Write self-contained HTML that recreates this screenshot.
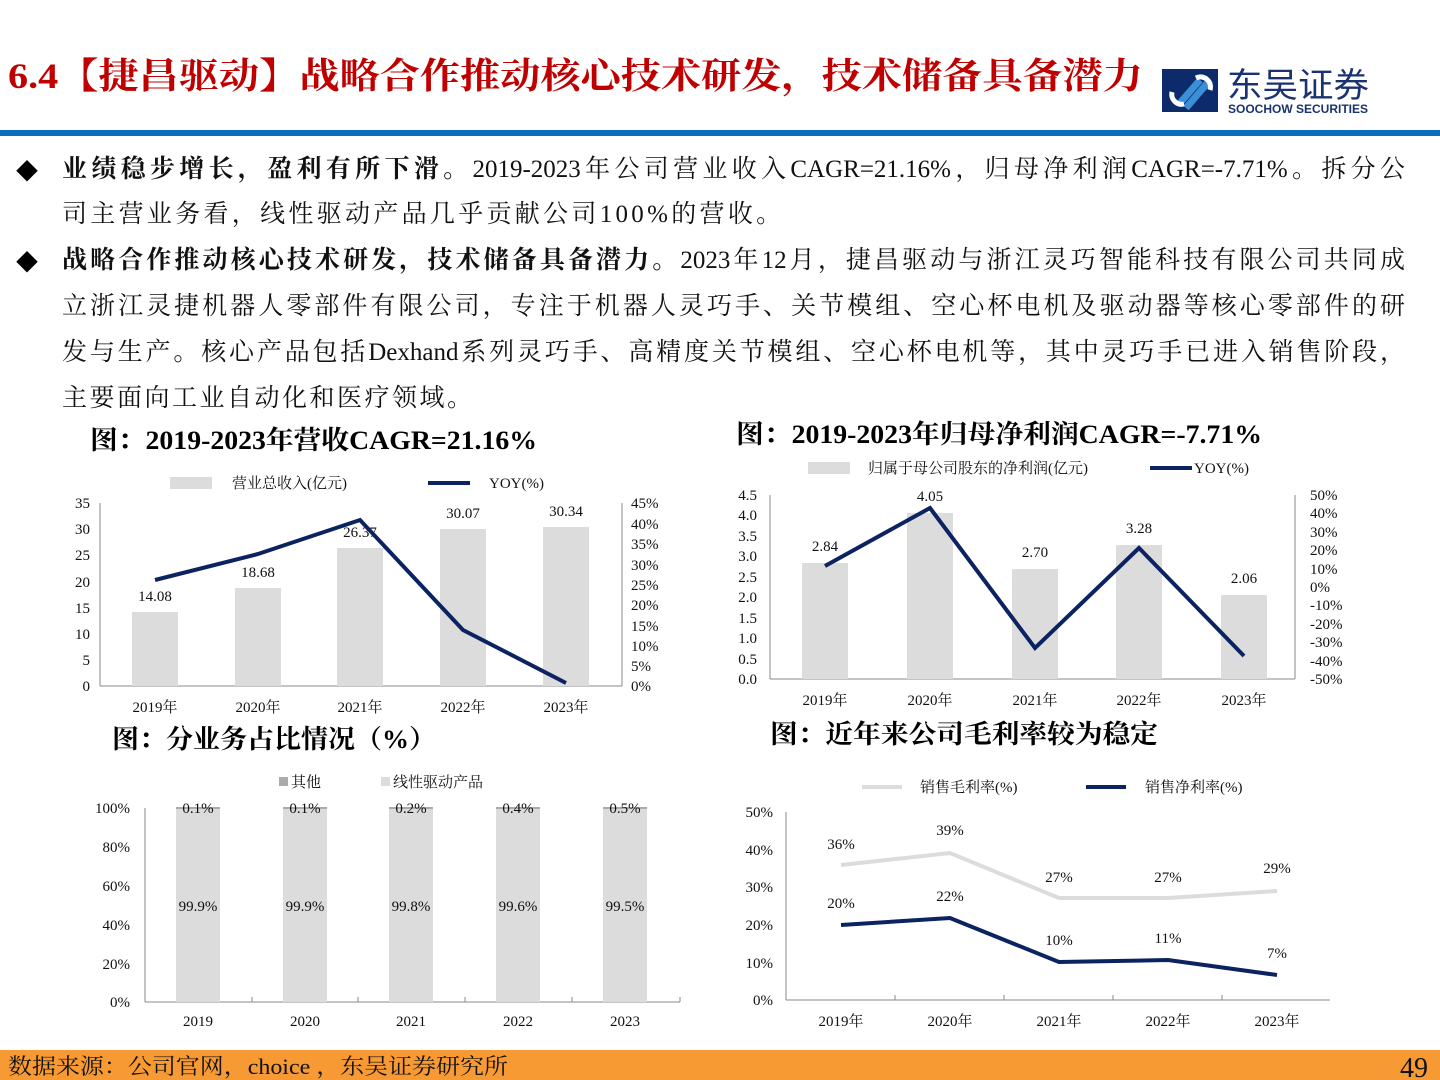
<!DOCTYPE html>
<html><head><meta charset="utf-8">
<style>
html,body{margin:0;padding:0;background:#fff;}
body{width:1440px;height:1080px;position:relative;overflow:hidden;font-family:"Liberation Serif","Noto Serif CJK SC",serif;}
.l{position:absolute;left:62px;width:1343px;font-size:25px;line-height:30px;color:#111;white-space:nowrap;}
.j{text-align:justify;text-align-last:justify;}
b{font-weight:bold;}
</style></head><body>
<svg width="1440" height="1080" style="position:absolute;left:0;top:0" font-family="Liberation Serif, Noto Serif CJK SC, serif">
<!-- header -->
<text x="8" y="88" font-size="36" font-weight="bold" fill="#c00000" textLength="1135" lengthAdjust="spacingAndGlyphs">6.4【捷昌驱动】战略合作推动核心技术研发，技术储备具备潜力</text>
<rect x="1162" y="69" width="56" height="43" fill="#0d2a6b"/>
<path d="M1180 103 L1200 80 M1186 108 L1210 80" stroke="#3a8fd6" stroke-width="7" fill="none"/>
<path d="M1196 78 a10 10 0 0 1 14 12 M1184 104 a10 10 0 0 1 -12 -12" stroke="#fff" stroke-width="5" fill="none"/>
<text x="1227" y="97" font-size="34" fill="#1a3370" font-family="Noto Sans CJK SC, sans-serif" textLength="142" lengthAdjust="spacingAndGlyphs">东吴证券</text>
<text x="1228" y="113" font-size="12" font-weight="bold" fill="#1a3370" font-family="Liberation Sans, sans-serif" textLength="140" lengthAdjust="spacingAndGlyphs">SOOCHOW SECURITIES</text>
<rect x="0" y="130" width="1440" height="6" fill="#0b6bbf"/>
<!-- bullets -->
<text x="16" y="179" font-size="22">◆</text>
<text x="16" y="270" font-size="22">◆</text>

<!-- chart titles -->
<text x="90" y="449" font-size="26" font-weight="bold" textLength="447" lengthAdjust="spacingAndGlyphs">图：2019-2023年营收CAGR=21.16%</text>
<text x="736" y="443" font-size="26" font-weight="bold" textLength="526" lengthAdjust="spacingAndGlyphs">图：2019-2023年归母净利润CAGR=-7.71%</text>
<text x="112" y="748" font-size="26" font-weight="bold" textLength="324" lengthAdjust="spacingAndGlyphs">图：分业务占比情况（%）</text>
<text x="770" y="743" font-size="26" font-weight="bold" textLength="388" lengthAdjust="spacingAndGlyphs">图：近年来公司毛利率较为稳定</text>

<!-- chart1 -->
<g font-size="15" fill="#111">
<rect x="170" y="477" width="42" height="12" fill="#dcdcdc"/><text x="232" y="488">营业总收入(亿元)</text>
<line x1="428" y1="483" x2="470" y2="483" stroke="#0b2361" stroke-width="4"/><text x="489" y="488">YOY(%)</text>
<line x1="100" y1="503" x2="100" y2="686" stroke="#888"/>
<line x1="100" y1="686" x2="622" y2="686" stroke="#888"/>
<line x1="622" y1="503" x2="622" y2="686" stroke="#888"/>
<g text-anchor="end">
<text x="90" y="508">35</text><text x="90" y="534">30</text><text x="90" y="560">25</text><text x="90" y="587">20</text><text x="90" y="613">15</text><text x="90" y="639">10</text><text x="90" y="665">5</text><text x="90" y="691">0</text>
</g>
<g>
<text x="631" y="508">45%</text><text x="631" y="529">40%</text><text x="631" y="549">35%</text><text x="631" y="570">30%</text><text x="631" y="610">20%</text><text x="631" y="590">25%</text><text x="631" y="631">15%</text><text x="631" y="651">10%</text><text x="631" y="671">5%</text><text x="631" y="691">0%</text>
</g>
<g fill="#dcdcdc">
<rect x="132" y="612" width="46" height="74"/><rect x="235" y="588" width="46" height="98"/><rect x="337" y="548" width="46" height="138"/><rect x="440" y="529" width="46" height="157"/><rect x="543" y="527" width="46" height="159"/>
</g>
<g text-anchor="middle">
<text x="155" y="601">14.08</text><text x="258" y="577">18.68</text><text x="360" y="537">26.37</text><text x="463" y="518">30.07</text><text x="566" y="516">30.34</text>
<text x="155" y="712">2019年</text><text x="258" y="712">2020年</text><text x="360" y="712">2021年</text><text x="463" y="712">2022年</text><text x="566" y="712">2023年</text>
</g>
<polyline points="155,580 258,554 360,520 463,630 566,683" fill="none" stroke="#0b2361" stroke-width="4"/>
</g>

<!-- chart2 -->
<g font-size="15" fill="#111">
<rect x="808" y="462" width="42" height="12" fill="#dcdcdc"/><text x="868" y="473">归属于母公司股东的净利润(亿元)</text>
<line x1="1150" y1="468" x2="1192" y2="468" stroke="#0b2361" stroke-width="4"/><text x="1194" y="473">YOY(%)</text>
<line x1="770" y1="495" x2="770" y2="679" stroke="#888"/>
<line x1="770" y1="679" x2="1295" y2="679" stroke="#888"/>
<line x1="1295" y1="495" x2="1295" y2="679" stroke="#888"/>
<g text-anchor="end">
<text x="757" y="500">4.5</text><text x="757" y="520">4.0</text><text x="757" y="541">3.5</text><text x="757" y="561">3.0</text><text x="757" y="582">2.5</text><text x="757" y="602">2.0</text><text x="757" y="623">1.5</text><text x="757" y="643">1.0</text><text x="757" y="664">0.5</text><text x="757" y="684">0.0</text>
</g>
<g>
<text x="1310" y="500">50%</text><text x="1310" y="518">40%</text><text x="1310" y="537">30%</text><text x="1310" y="555">20%</text><text x="1310" y="574">10%</text><text x="1310" y="592">0%</text><text x="1310" y="610">-10%</text><text x="1310" y="629">-20%</text><text x="1310" y="647">-30%</text><text x="1310" y="666">-40%</text><text x="1310" y="684">-50%</text>
</g>
<g fill="#dcdcdc">
<rect x="802" y="563" width="46" height="116"/><rect x="907" y="513" width="46" height="166"/><rect x="1012" y="569" width="46" height="110"/><rect x="1116" y="545" width="46" height="134"/><rect x="1221" y="595" width="46" height="84"/>
</g>
<g text-anchor="middle">
<text x="825" y="551">2.84</text><text x="930" y="501">4.05</text><text x="1035" y="557">2.70</text><text x="1139" y="533">3.28</text><text x="1244" y="583">2.06</text>
<text x="825" y="705">2019年</text><text x="930" y="705">2020年</text><text x="1035" y="705">2021年</text><text x="1139" y="705">2022年</text><text x="1244" y="705">2023年</text>
</g>
<polyline points="825,566 930,508 1035,648 1139,548 1244,656" fill="none" stroke="#0b2361" stroke-width="4"/>
</g>

<!-- chart3 -->
<g font-size="15" fill="#111">
<rect x="279" y="777" width="9" height="9" fill="#aaa"/><text x="291" y="787">其他</text>
<rect x="381" y="777" width="9" height="9" fill="#dcdcdc"/><text x="393" y="787">线性驱动产品</text>
<line x1="145" y1="808" x2="145" y2="1002" stroke="#888"/>
<line x1="145" y1="1002" x2="680" y2="1002" stroke="#888"/>
<g stroke="#888"><line x1="252" y1="1002" x2="252" y2="997"/><line x1="358" y1="1002" x2="358" y2="997"/><line x1="465" y1="1002" x2="465" y2="997"/><line x1="572" y1="1002" x2="572" y2="997"/><line x1="680" y1="1002" x2="680" y2="997"/></g>
<g text-anchor="end">
<text x="130" y="813">100%</text><text x="130" y="852">80%</text><text x="130" y="891">60%</text><text x="130" y="930">40%</text><text x="130" y="969">20%</text><text x="130" y="1007">0%</text>
</g>
<g fill="#dcdcdc">
<rect x="176" y="808" width="44" height="194"/><rect x="283" y="808" width="44" height="194"/><rect x="389" y="808" width="44" height="194"/><rect x="496" y="808" width="44" height="194"/><rect x="603" y="808" width="44" height="194"/>
</g>
<g fill="#aaa"><rect x="176" y="807" width="44" height="2"/><rect x="283" y="807" width="44" height="2"/><rect x="389" y="807" width="44" height="2"/><rect x="496" y="807" width="44" height="2"/><rect x="603" y="807" width="44" height="2"/></g>
<g text-anchor="middle">
<text x="198" y="813">0.1%</text><text x="305" y="813">0.1%</text><text x="411" y="813">0.2%</text><text x="518" y="813">0.4%</text><text x="625" y="813">0.5%</text>
<text x="198" y="911">99.9%</text><text x="305" y="911">99.9%</text><text x="411" y="911">99.8%</text><text x="518" y="911">99.6%</text><text x="625" y="911">99.5%</text>
<text x="198" y="1026">2019</text><text x="305" y="1026">2020</text><text x="411" y="1026">2021</text><text x="518" y="1026">2022</text><text x="625" y="1026">2023</text>
</g>
</g>

<!-- chart4 -->
<g font-size="15" fill="#111">
<line x1="862" y1="787" x2="902" y2="787" stroke="#dcdcdc" stroke-width="4"/><text x="920" y="792">销售毛利率(%)</text>
<line x1="1086" y1="787" x2="1126" y2="787" stroke="#0b2361" stroke-width="4"/><text x="1145" y="792">销售净利率(%)</text>
<line x1="786" y1="812" x2="786" y2="1000" stroke="#888"/>
<line x1="786" y1="1000" x2="1330" y2="1000" stroke="#888"/>
<g stroke="#888"><line x1="895" y1="1000" x2="895" y2="995"/><line x1="1004" y1="1000" x2="1004" y2="995"/><line x1="1113" y1="1000" x2="1113" y2="995"/><line x1="1222" y1="1000" x2="1222" y2="995"/></g>
<g text-anchor="end">
<text x="773" y="817">50%</text><text x="773" y="855">40%</text><text x="773" y="892">30%</text><text x="773" y="930">20%</text><text x="773" y="968">10%</text><text x="773" y="1005">0%</text>
</g>
<polyline points="841,865 950,853 1059,898 1168,898 1277,891" fill="none" stroke="#dcdcdc" stroke-width="4"/>
<polyline points="841,925 950,918 1059,962 1168,960 1277,975" fill="none" stroke="#0b2361" stroke-width="4"/>
<g text-anchor="middle">
<text x="841" y="849">36%</text><text x="950" y="835">39%</text><text x="1059" y="882">27%</text><text x="1168" y="882">27%</text><text x="1277" y="873">29%</text>
<text x="841" y="908">20%</text><text x="950" y="901">22%</text><text x="1059" y="945">10%</text><text x="1168" y="943">11%</text><text x="1277" y="958">7%</text>
<text x="841" y="1026">2019年</text><text x="950" y="1026">2020年</text><text x="1059" y="1026">2021年</text><text x="1168" y="1026">2022年</text><text x="1277" y="1026">2023年</text>
</g>
</g>

<!-- footer -->
<rect x="0" y="1050" width="1440" height="30" fill="#f79a33"/>
<text x="8" y="1074" font-size="22" fill="#111" textLength="500" lengthAdjust="spacingAndGlyphs">数据来源：公司官网，choice ，东吴证券研究所</text>
<text x="1428" y="1077" font-size="28" text-anchor="end" fill="#111">49</text>
</svg>

<div class="l j" style="top:155px"><b>业绩稳步增长，盈利有所下滑。</b>2019-2023年公司营业收入CAGR=21.16%，归母净利润CAGR=-7.71%。拆分公</div>
<div class="l" style="top:200px;letter-spacing:3.3px">司主营业务看，线性驱动产品几乎贡献公司100%的营收。</div>
<div class="l j" style="top:246px"><b>战略合作推动核心技术研发，技术储备具备潜力。</b>2023年12月，捷昌驱动与浙江灵巧智能科技有限公司共同成</div>
<div class="l j" style="top:292px">立浙江灵捷机器人零部件有限公司，专注于机器人灵巧手、关节模组、空心杯电机及驱动器等核心零部件的研</div>
<div class="l j" style="top:338px">发与生产。核心产品包括Dexhand系列灵巧手、高精度关节模组、空心杯电机等，其中灵巧手已进入销售阶段，</div>
<div class="l" style="top:384px;letter-spacing:2.5px">主要面向工业自动化和医疗领域。</div>
</body></html>
